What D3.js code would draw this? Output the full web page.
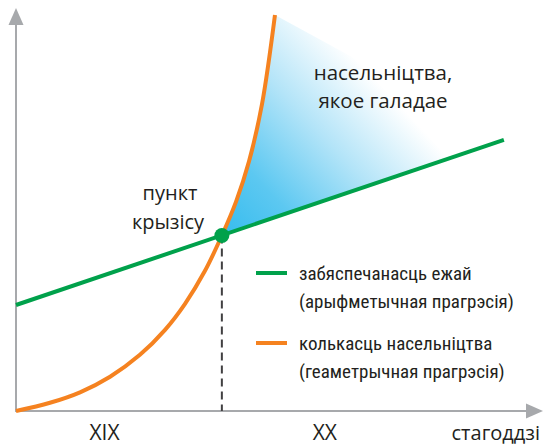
<!DOCTYPE html>
<html>
<head>
<meta charset="utf-8">
<script src="https://cdn.jsdelivr.net/npm/d3@7"></script>
<style>
  body { margin: 0; background: #fff; }
  svg { display: block; }
  .lbl { font-family: "Open Sans", "Noto Sans", sans-serif; fill: #231f20; }
  .leg { font-family: "Liberation Sans Narrow", "Roboto Condensed", sans-serif; fill: #231f20; }
</style>
</head>
<body>
<svg id="chart" width="545" height="446"></svg>
<script>
// orange: population grows geometrically (year, value)
var popYears  = [1800, 1816.5, 1831.1, 1845.7, 1860.2, 1872.4, 1882.1, 1891.8, 1900, 1906.9, 1913.2, 1919.5, 1925.8];
var popValues = [0, 2.07, 4.71, 8.64, 14.16, 20.45, 27.0, 35.31, 44.2, 52.75, 62.9, 77.3, 99.75];
// green: food supply grows arithmetically
var foodYears  = [1800, 2037];
var foodValues = [26.7, 68.3];
var crisisYear = 1900, crisisValue = 44.2;

var centuries = ["XIX", "XX"];
var centuryPos = [1843, 1950];
var axisEnd = [2056, 101.5];

var legendText = [
  ["забяспечанасць ежай", "(арыфметычная прагрэсія)"],
  ["колькасць насельніцтва", "(геаметрычная прагрэсія)"]
];
var legendColors = ["#00a14b", "#f58220"];

var svg = d3.select("#chart");
var x = d3.scaleLinear().domain([1800, 2056]).range([16, 543]);
var y = d3.scaleLinear().domain([0, 100]).range([411, 14]);

var defs = svg.append("defs");

// gradient for the "hungry population" wedge: blue at the crisis point, white to the upper right
var c = [x(crisisYear), y(crisisValue)];
var gEnd = [x(foodYears[1]), y(foodValues[1])];
var grad = defs.append("linearGradient").attr("id", "hung")
  .attr("gradientUnits", "userSpaceOnUse")
  .attr("x1", c[0]).attr("y1", c[1]).attr("x2", c[0] + 188).attr("y2", c[1] - 176);
grad.append("stop").attr("offset", "0").attr("stop-color", "#36bcee");
grad.append("stop").attr("offset", "0.25").attr("stop-color", "#5cc8f1");
grad.append("stop").attr("offset", "0.55").attr("stop-color", "#b3e4f8");
grad.append("stop").attr("offset", "0.85").attr("stop-color", "#ffffff");

var popPts = popYears.map(function(yr, i){ return [yr, popValues[i]]; });
var line = d3.line().x(function(p){ return x(p[0]); }).y(function(p){ return y(p[1]); })
  .curve(d3.curveCatmullRom.alpha(0.5));

// wedge: along orange from crisis to top, to green end, back along green
var upper = popPts.filter(function(p){ return p[0] >= crisisYear; });
var wedgeD = line(upper) + "L" + gEnd[0] + "," + gEnd[1] + "L" + c[0] + "," + c[1] + "Z";
svg.append("path").attr("d", wedgeD).attr("fill", "url(#hung)");

// axes
var axisColor = "#a7a9ac";
svg.append("line").attr("x1", x(1800)).attr("y1", y(0)).attr("x2", x(1800)).attr("y2", y(axisEnd[1]) + 16)
  .attr("stroke", axisColor).attr("stroke-width", 2);
svg.append("line").attr("x1", x(1800) - 1).attr("y1", y(0)).attr("x2", x(axisEnd[0]) - 16).attr("y2", y(0))
  .attr("stroke", axisColor).attr("stroke-width", 2);
var yt = [x(1800), y(axisEnd[1])];
svg.append("path").attr("d", "M" + yt[0] + "," + yt[1] + "L" + (yt[0]+7.5) + "," + (yt[1]+17) + "L" + (yt[0]-7.5) + "," + (yt[1]+17) + "Z")
  .attr("fill", axisColor);
var xt = [x(axisEnd[0]), y(0)];
svg.append("path").attr("d", "M" + xt[0] + "," + xt[1] + "L" + (xt[0]-17) + "," + (xt[1]-7.5) + "L" + (xt[0]-17) + "," + (xt[1]+7.5) + "Z")
  .attr("fill", axisColor);

// dashed drop line
svg.append("line").attr("x1", x(crisisYear)).attr("x2", x(crisisYear))
  .attr("y1", y(crisisValue)).attr("y2", y(0))
  .attr("stroke", "#414042").attr("stroke-width", 2).attr("stroke-dasharray", "8,5");

// green line
svg.append("path").attr("d", line(foodYears.map(function(yr, i){ return [yr, foodValues[i]]; })))
  .attr("fill", "none").attr("stroke", legendColors[0]).attr("stroke-width", 4);

// orange curve
svg.append("path").attr("d", line(popPts))
  .attr("fill", "none").attr("stroke", legendColors[1]).attr("stroke-width", 4);

// crisis dot
svg.append("circle").attr("cx", x(crisisYear)).attr("cy", y(crisisValue)).attr("r", 7.5)
  .attr("fill", "#00a14b");

// labels
svg.append("text").attr("class", "lbl").attr("x", 170).attr("y", 200).attr("text-anchor", "middle")
  .attr("font-size", 20).text("пункт");
svg.append("text").attr("class", "lbl").attr("x", 168).attr("y", 229).attr("text-anchor", "middle")
  .attr("font-size", 20).text("крызісу");
svg.append("text").attr("class", "lbl").attr("x", 383).attr("y", 80).attr("text-anchor", "middle")
  .attr("font-size", 20.5).text("насельніцтва,");
svg.append("text").attr("class", "lbl").attr("x", 383).attr("y", 108).attr("text-anchor", "middle")
  .attr("font-size", 20.5).text("якое галадае");

centuries.forEach(function(cn, i){
  svg.append("text").attr("class", "lbl").attr("x", x(centuryPos[i])).attr("y", 440)
    .attr("text-anchor", "middle").attr("font-size", 21).text(cn);
});
svg.append("text").attr("class", "lbl").attr("x", 540).attr("y", 440)
  .attr("text-anchor", "end").attr("font-size", 20).text("стагоддзі");

// legend
legendText.forEach(function(lines, i){
  var ly = 273 + i * 70;
  svg.append("line").attr("x1", 256).attr("x2", 287).attr("y1", ly).attr("y2", ly)
    .attr("stroke", legendColors[i]).attr("stroke-width", 4);
  lines.forEach(function(s, j){
    svg.append("text").attr("class", "leg").attr("x", 299).attr("y", ly + 7 + j * 28)
      .attr("font-size", 19).text(s);
  });
});
</script>
</body>
</html>
